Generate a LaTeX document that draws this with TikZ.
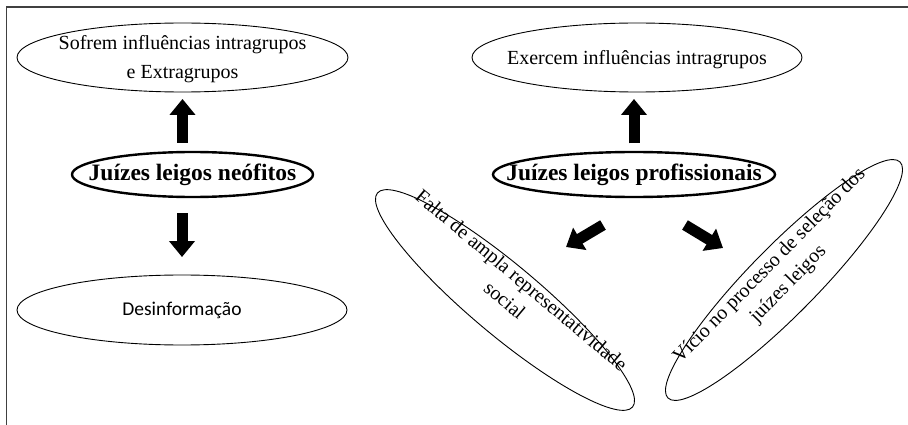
\documentclass[tikz,border=0pt]{standalone}
\usepackage{fontspec}
\setmainfont{Liberation Serif}
\newfontfamily\calibfont{Carlito}
\usetikzlibrary{shapes.geometric,arrows.meta}
\newcommand{\mytxt}[2][0pt]{\smash{\makebox[0pt]{\raisebox{\dimexpr-0.3em+#1\relax}{\begin{tabular}{@{}c@{}}#2\end{tabular}}}}}
\begin{document}
\begin{tikzpicture}[x=1pt,y=-1pt,
  thinell/.style={ellipse, draw=black, line width=0.9pt, inner sep=0pt, font=\fontsize{20}{29}\selectfont},
  thickell/.style={ellipse, draw=black, line width=2.4pt, inner sep=0pt, font=\bfseries\fontsize{23.5}{28}\selectfont},
  blockarrow/.style={line width=11pt, -{Triangle[length=16pt,width=25pt]}, black}
]
\useasboundingbox (0,0) rectangle (908,425);
\draw[line width=1.5pt, draw=black!75] (6.5,425) -- (6.5,7) -- (908,7);

\node[thinell, minimum width=331, minimum height=69] (sofrem) at (182.5,57.5)
  {\mytxt{Sofrem influências intragrupos\\e Extragrupos}};
\node[thinell, minimum width=330, minimum height=69] (exercem) at (637,57.5)
  {\mytxt{Exercem influências intragrupos}};
\node[thickell, minimum width=241, minimum height=45] (neo) at (192.5,174.5)
  {\mytxt{Juízes leigos neófitos}};
\node[thickell, minimum width=282, minimum height=45] (prof) at (634,174.5)
  {\mytxt{Juízes leigos profissionais}};
\node[thinell, minimum width=330, minimum height=70, font=\calibfont\fontsize{19.5}{24}\selectfont] (desinf) at (182,310)
  {\mytxt{Desinformação}};
\node[thinell, minimum width=333, minimum height=70, rotate=-40, font=\fontsize{20}{26}\selectfont] (falta) at (505,300)
  {\mytxt[12pt]{Falta de ampla representatividade\\social}};
\node[thinell, minimum width=331, minimum height=68, rotate=45.5, font=\fontsize{20}{26}\selectfont] (vicio) at (784,280)
  {\mytxt[8pt]{Vício no processo de seleção dos\\juízes leigos}};

\coordinate (la1) at (603,225);
\coordinate (la2) at (566,247);
\coordinate (ra1) at (685,225);
\coordinate (ra2) at (723,248);

\draw[blockarrow, shorten <=8pt, shorten >=6.5pt] (neo.north -| sofrem.south) -- (sofrem.south);
\draw[blockarrow, shorten <=15pt, shorten >=17.5pt] (neo.south -| desinf.north) -- (desinf.north);
\draw[blockarrow, shorten <=7.5pt, shorten >=6.5pt] (prof.north) -- (prof.north |- exercem.south);
\draw[blockarrow] (la1) -- (la2);
\draw[blockarrow] (ra1) -- (ra2);
\end{tikzpicture}
\end{document}
